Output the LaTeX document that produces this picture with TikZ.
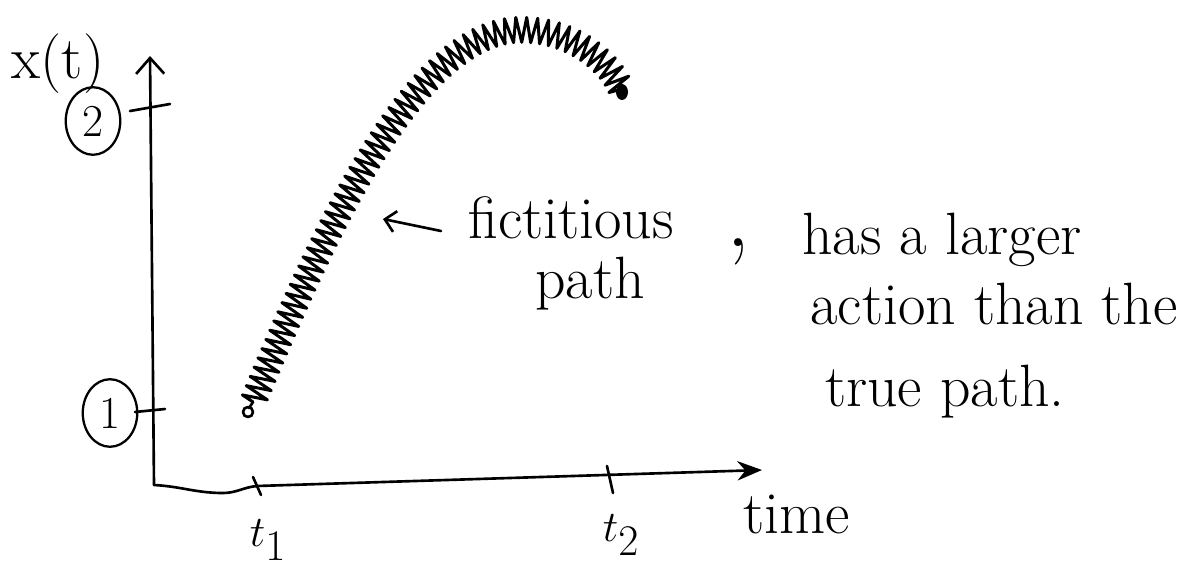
\documentclass[tikz,border=0pt]{standalone}
\usetikzlibrary{arrows.meta,decorations.pathmorphing,shapes.geometric}
\begin{document}
\begin{tikzpicture}[x=0.02cm,y=-0.02cm, line cap=round, line join=round,
  ink/.style={line width=1.5pt},
  hand/.style={font=\fontsize{34}{36}\selectfont, inner sep=0pt},
  circ/.style={draw, ellipse, line width=1.3pt, inner sep=5pt, font=\fontsize{26}{28}\selectfont}]
\useasboundingbox (0,0) rectangle (1187,569);
% axes
\coordinate (o) at (154,485);
\coordinate (ytop) at (150,56);
\coordinate (xw) at (223,493);
\coordinate (xt1) at (257,486);
\coordinate (xend) at (762,470);
\draw[ink, -{Straight Barb[length=9pt,width=16pt]}] (o) -- (ytop);
\draw[ink, -{Stealth[length=14pt,width=11pt]}] (o) to[out=-3,in=180] (xw) to[out=0,in=185] (xt1) -- (xend);
% ticks
\draw[ink] (130,111) -- (170,104);
\draw[ink] (135,412) -- (165,409);
\draw[ink] (253,477) -- (261,495);
\draw[ink] (607,466) -- (613,493);
% axis labels
\node[hand] (xt) at (58,64) {x(t)};
\node[circ] (two) at (93,121) {2};
\node[circ, minimum height=1.12cm] (one) at (110,413) {1};
\node[hand] (t1) at (268,540) {$t_1$};
\node[hand] (t2) at (621,535) {$t_2$};
\node[hand] (time) at (797,514) {time};
% fictitious path
\coordinate (ps) at (253,402);
\coordinate (pe) at (622,92);
\draw[ink] (248,412) circle (5);
\draw[ink] (249,408) -- (ps);
\draw[line width=1.7pt, decorate, decoration={zigzag, segment length=0.2cm, amplitude=0.25cm}]
  (ps) .. controls (320,240) and (410,38) .. (515,30) .. controls (570,27) and (612,62) .. (pe);
\fill (pe) ellipse (6 and 8);
% labels
\node[hand] (fict) at (571,218) {fictitious};
\node[hand] (path) at (590,284) {path};
\coordinate (ptr) at (383,219);
\coordinate (tail) at (441,231);
\draw[ink, -{Straight Barb[length=6pt,width=12pt]}] (tail) -- (ptr);
\node[hand, scale=1.6] (comma) at (738,252) {,};
\node[hand] (l1) at (942,240) {has a larger};
\node[hand] (l2) at (994,304) {action than the};
\node[hand] (l3) at (945,392) {true path.};
\end{tikzpicture}
\end{document}
